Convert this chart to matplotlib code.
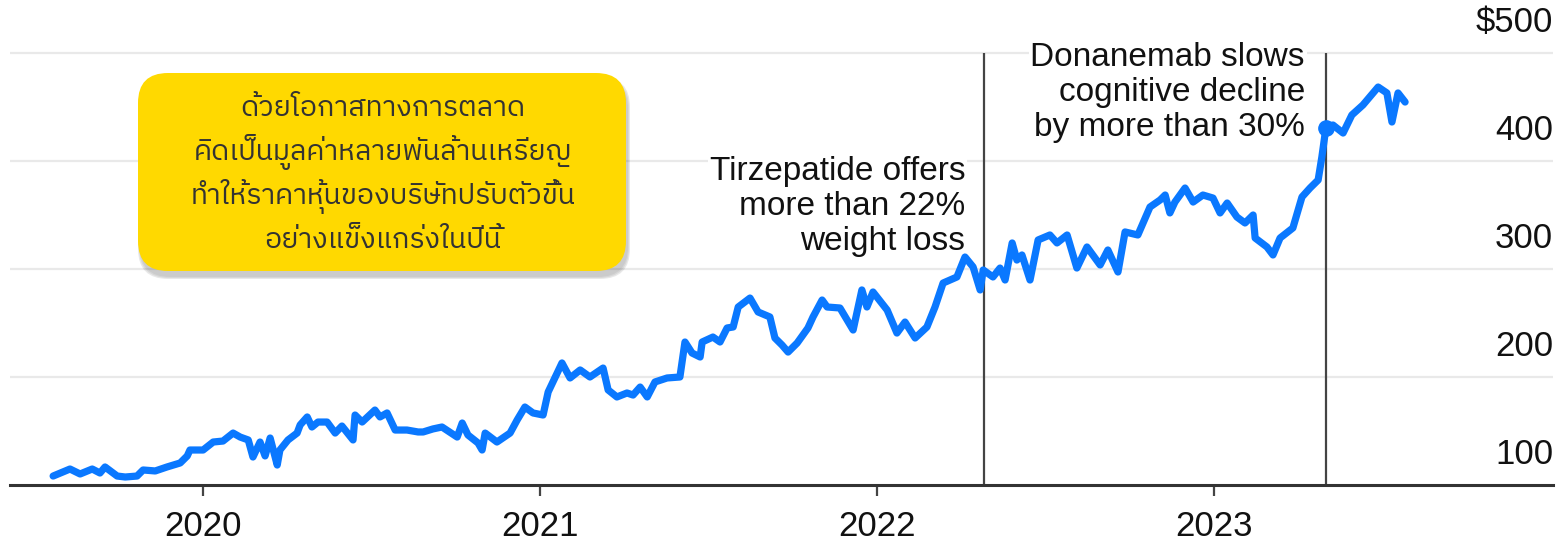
import numpy as np
import matplotlib
matplotlib.use('Agg')
import matplotlib.pyplot as plt
from matplotlib import font_manager
from matplotlib.ft2font import FT2Font
from matplotlib.patches import FancyBboxPatch

# Eli Lilly share price (decimal year, $)
years = [2019.555, 2019.605, 2019.635, 2019.671, 2019.694, 2019.709, 2019.745, 2019.769,
         2019.804, 2019.822, 2019.858, 2019.893, 2019.932, 2019.953, 2019.961, 2020.000,
         2020.030, 2020.059, 2020.089, 2020.110, 2020.134, 2020.148, 2020.169, 2020.184,
         2020.199, 2020.220, 2020.228, 2020.252, 2020.279, 2020.288, 2020.309, 2020.323,
         2020.341, 2020.368, 2020.392, 2020.412, 2020.445, 2020.451, 2020.472, 2020.510,
         2020.525, 2020.546, 2020.570, 2020.605, 2020.638, 2020.653, 2020.682, 2020.709,
         2020.754, 2020.769, 2020.786, 2020.816, 2020.828, 2020.837, 2020.872, 2020.911,
         2020.932, 2020.955, 2020.979, 2021.009, 2021.024, 2021.065, 2021.089, 2021.119,
         2021.148, 2021.187, 2021.202, 2021.228, 2021.258, 2021.276, 2021.297, 2021.318,
         2021.341, 2021.377, 2021.415, 2021.430, 2021.451, 2021.475, 2021.481, 2021.513,
         2021.534, 2021.555, 2021.573, 2021.588, 2021.623, 2021.647, 2021.682, 2021.697,
         2021.718, 2021.736, 2021.763, 2021.795, 2021.810, 2021.837, 2021.852, 2021.890,
         2021.929, 2021.955, 2021.970, 2021.988, 2022.030, 2022.059, 2022.083, 2022.113,
         2022.148, 2022.172, 2022.196, 2022.237, 2022.261, 2022.285, 2022.306, 2022.315,
         2022.344, 2022.365, 2022.380, 2022.401, 2022.415, 2022.430, 2022.454, 2022.478,
         2022.513, 2022.534, 2022.564, 2022.593, 2022.623, 2022.662, 2022.685, 2022.715,
         2022.736, 2022.774, 2022.810, 2022.840, 2022.855, 2022.869, 2022.884, 2022.914,
         2022.938, 2022.967, 2022.997, 2023.018, 2023.039, 2023.068, 2023.092, 2023.116,
         2023.122, 2023.157, 2023.175, 2023.196, 2023.234, 2023.261, 2023.285, 2023.309,
         2023.320, 2023.332, 2023.353, 2023.383, 2023.409, 2023.442, 2023.487, 2023.513,
         2023.528, 2023.546, 2023.567]
prices = [108.3, 114.8, 110.2, 114.8, 111.1, 116.7, 108.3, 107.4,
          108.3, 113.9, 113.0, 116.7, 120.4, 126.9, 132.4, 132.4,
          139.8, 140.7, 148.1, 144.4, 141.7, 125.9, 139.8, 126.9,
          143.5, 118.5, 132.4, 141.7, 148.1, 155.6, 163.0, 153.7,
          158.3, 158.3, 148.1, 154.6, 141.7, 164.8, 158.3, 169.4,
          163.0, 166.7, 150.9, 150.9, 149.1, 149.1, 151.9, 153.7,
          144.4, 157.4, 146.3, 138.9, 132.4, 148.1, 139.8, 148.1,
          160.2, 172.2, 166.7, 164.8, 186.1, 213.0, 199.1, 206.5,
          200.0, 208.3, 188.0, 181.5, 185.2, 183.3, 190.7, 181.5,
          195.4, 199.1, 200.0, 232.4, 222.2, 218.5, 232.4, 237.0,
          232.4, 245.4, 246.3, 264.8, 273.1, 260.2, 255.6, 236.1,
          229.6, 223.1, 231.5, 245.4, 255.6, 271.3, 264.8, 263.9,
          243.5, 280.6, 264.8, 278.7, 262.0, 240.7, 250.9, 236.1,
          246.3, 264.8, 287.0, 292.6, 311.1, 301.9, 280.6, 299.1,
          292.6, 300.9, 289.8, 324.1, 308.3, 313.0, 289.8, 326.9,
          331.5, 324.1, 331.5, 300.9, 320.4, 303.7, 317.6, 297.2,
          334.3, 331.5, 357.4, 363.9, 368.5, 351.9, 362.0, 375.0,
          362.0, 368.5, 365.7, 351.9, 361.1, 348.1, 342.6, 350.0,
          328.7, 320.4, 313.0, 328.7, 338.0, 366.7, 375.0, 382.4,
          403.7, 430.6, 433.3, 425.9, 442.6, 451.9, 468.5, 463.0,
          436.1, 463.0, 454.6]

event_years = [2022.318, 2023.332]
event_texts = ['Tirzepatide offers\nmore than 22%\nweight loss',
               'Donanemab slows\ncognitive decline\nby more than 30%']
dot_year = 2023.332
dot_price = 430.6

year_ticks = [2020, 2021, 2022, 2023]
price_ticks = [100, 200, 300, 400, 500]
price_labels = ['100', '200', '300', '400', '$500']

box_lines = ['ด้วยโอกาสทางการตลาด',
             'คิดเป็นมูลค่าหลายพันล้านเหรียญ',
             'ทำให้ราคาหุ้นของบริษัทปรับตัวขึ้น',
             'อย่างแข็งแกร่งในปีนี้']


def find_thai_font():
    found = []
    for f in font_manager.fontManager.ttflist:
        try:
            if 0x0E01 in FT2Font(f.fname).get_charmap():
                found.append(f.name)
        except Exception:
            pass
    for name in found:
        if 'Thai' in name and 'Looped' not in name:
            return name
    return found[0] if found else 'DejaVu Sans'


thai_font = find_thai_font()
plt.rcParams['font.family'] = ['Liberation Sans', 'DejaVu Sans']

W, H = 1559, 541
fig = plt.figure(figsize=(W / 100, H / 100), dpi=100)
ax = fig.add_axes([10 / W, (H - 485) / H, 1543 / W, 485 / H])
ax.set_xlim(2019.427, 2020 + 1350 / 337)
ax.set_ylim(100, 100 + 485 / 1.08)

for s in ['top', 'left', 'right']:
    ax.spines[s].set_visible(False)
ax.spines['bottom'].set_color('#333333')
ax.spines['bottom'].set_linewidth(2.2)

ax.set_yticks(price_ticks[1:])
ax.tick_params(axis='y', length=0, labelleft=False)
ax.grid(axis='y', color='#e9e9e9', lw=1.6)
ax.set_axisbelow(True)

ax.set_xticks(year_ticks)
ax.set_xticklabels([str(y) for y in year_ticks])
ax.tick_params(axis='x', length=8, width=1.6, color='#444444', pad=10,
               labelsize=25, labelcolor='#111111')

for v, lab in zip(price_ticks, price_labels):
    ax.annotate(lab, xy=(1.0, v), xycoords=('axes fraction', 'data'),
                xytext=(0, 30), textcoords='offset pixels',
                ha='right', va='center', fontsize=25, color='#111111')

ax.vlines(event_years, 100, 500, color='#444444', lw=1.6, zorder=2)

ax.plot(years, prices, color='#0a78ff', lw=5.2, solid_joinstyle='round',
        solid_capstyle='round', zorder=6)
ax.plot(dot_year, dot_price, 'o', color='#0a78ff', ms=11, zorder=7)

offsets = [(-19, 5), (-21, 11)]
tops = [400, 500]
for x, txt, off, top in zip(event_years, event_texts, offsets, tops):
    ax.annotate(txt, xy=(x, top), xytext=off, textcoords='offset pixels',
                ha='right', va='top', fontsize=24, color='#111111',
                linespacing=1.17, zorder=5,
                bbox=dict(boxstyle='square,pad=0.05', fc='white', ec='none'))

# yellow call-out box, drawn on a pixel overlay
ov = fig.add_axes([0, 0, 1, 1])
ov.set_xlim(0, W)
ov.set_ylim(H, 0)
ov.axis('off')
for i, a in enumerate([0.05, 0.07, 0.09]):
    ov.add_patch(FancyBboxPatch((138 + 2 - i, 73 + 6 - i), 488 + 2 * i, 198 + 2 * i,
                                boxstyle='round,pad=0,rounding_size=30',
                                fc='black', ec='none', alpha=a))
ov.add_patch(FancyBboxPatch((138, 73), 488, 198, boxstyle='round,pad=0,rounding_size=30',
                            fc='#ffd900', ec='none'))
for i, line in enumerate(box_lines):
    ov.text(383, 108 + i * 44, line, ha='center', va='center', fontsize=20.5,
            color='#333333', family=[thai_font, 'DejaVu Sans'])

fig.savefig('out.png', dpi=100)
